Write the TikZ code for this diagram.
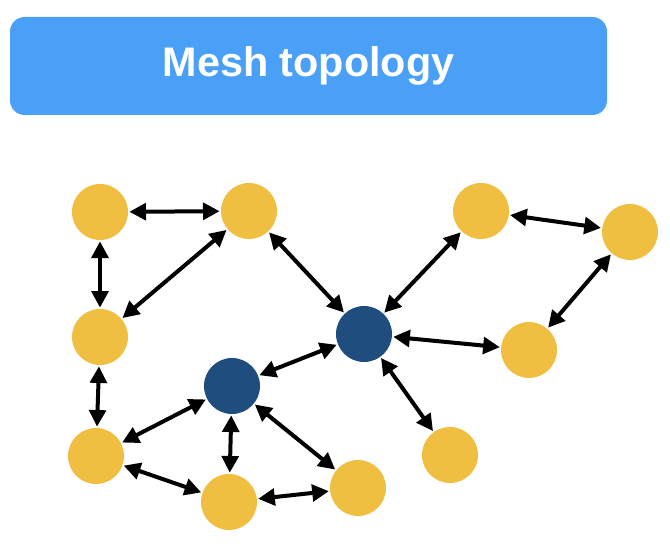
\documentclass[tikz,border=0pt]{standalone}
\usepackage{fontspec}
\setmainfont{Liberation Sans}
\usepackage{xcolor}
\usepackage{tikz}
\usetikzlibrary{positioning}
\usetikzlibrary{arrows.meta}
\definecolor{titleblue}{HTML}{4A9FF7}
\definecolor{hostyellow}{HTML}{F0BE41}
\definecolor{hubblue}{HTML}{1F4E7E}

\begin{document}
\begin{tikzpicture}[
x=0.75pt, y=-0.75pt,
titlenode/.style={rectangle, rounded corners=11pt, fill=titleblue, minimum width=447.75pt, minimum height=73.5pt, text=white, font=\fontsize{31}{36}\selectfont\bfseries},
hostnode/.style={circle, fill=hostyellow, minimum size=42pt, inner sep=0pt, outer sep=1pt},
hubnode/.style={circle, fill=hubblue, minimum size=42pt, inner sep=0pt, outer sep=1pt},
linkarrow/.style={{Triangle[length=12.5pt,width=12.5pt]}-{Triangle[length=12.5pt,width=12.5pt]}, line width=3pt},
]
\useasboundingbox (0,0) rectangle (670,556);
%Nodes
\node[titlenode]	(title)		at (308.5,66)	{Mesh topology};
\node[hostnode]		(hostA)		at (100,212)	{};
\node[hostnode]		(hostB)		at (249,211)	{};
\node[hostnode]		(hostC)		at (100,337)	{};
\node[hostnode]		(hostD)		at (96,456)		{};
\node[hubnode]		(hubE)		at (232,386)	{};
\node[hubnode]		(hubF)		at (364,334)	{};
\node[hostnode]		(hostG)		at (481,211)	{};
\node[hostnode]		(hostH)		at (630,232)	{};
\node[hostnode]		(hostI)		at (529,350)	{};
\node[hostnode]		(hostJ)		at (450,455)	{};
\node[hostnode]		(hostK)		at (229,502)	{};
\node[hostnode]		(hostL)		at (358,488)	{};

%Lines
\draw[linkarrow] (hostA) -- (hostB);
\draw[linkarrow] (hostA) -- (hostC);
\draw[linkarrow] (hostC) -- (hostB);
\draw[linkarrow] (hostB) -- (hubF);
\draw[linkarrow] (hostC) -- (hostD);
\draw[linkarrow] (hostD) -- (hubE);
\draw[linkarrow] (hostD) -- (hostK);
\draw[linkarrow] (hubE) -- (hostK);
\draw[linkarrow] (hubE) -- (hostL);
\draw[linkarrow] (hubE) -- (hubF);
\draw[linkarrow] (hubF) -- (hostG);
\draw[linkarrow] (hubF) -- (hostI);
\draw[linkarrow] (hubF) -- (hostJ);
\draw[linkarrow] (hostG) -- (hostH);
\draw[linkarrow] (hostH) -- (hostI);
\draw[linkarrow] (hostK) -- (hostL);
\end{tikzpicture}
\end{document}
